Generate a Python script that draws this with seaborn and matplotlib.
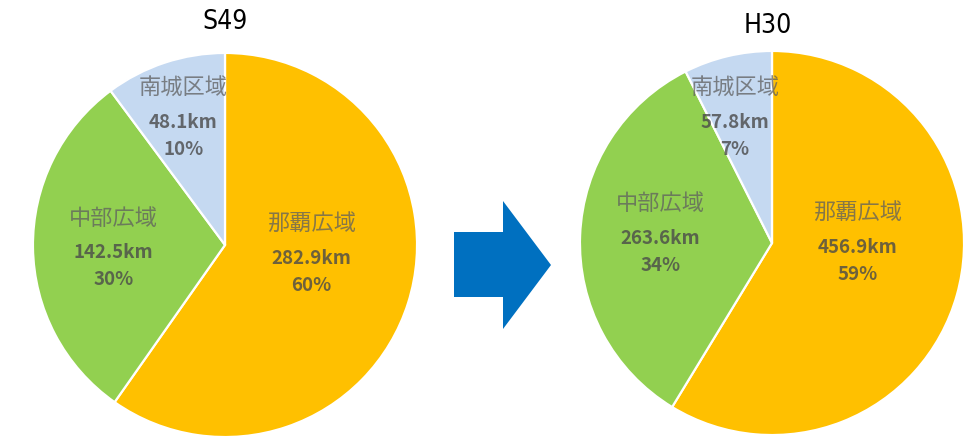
import matplotlib
matplotlib.use("Agg")
import matplotlib.pyplot as plt
from matplotlib.patches import Polygon
from matplotlib import font_manager
import seaborn as sns

# Road length by area (km), two survey years
areas = ["那覇広域", "中部広域", "南城区域"]
years = ["S49", "H30"]
km_s49 = [282.9, 142.5, 48.1]
km_h30 = [456.9, 263.6, 57.8]

sns.set_theme(style="white")
plt.rcParams["font.family"] = ["Noto Sans CJK JP", "DejaVu Sans"]

colors = ["#FFC000", "#92D050", "#C5D9F1"]

# label anchors (km line) in units of pie radius, per year / area
label_pos = {
    "S49": [(0.45, -0.068), (-0.58, -0.041), (-0.218, 0.637)],
    "H30": [(0.446, -0.021), (-0.58, 0.026), (-0.192, 0.627)],
}

W, H = 970, 440
fig = plt.figure(figsize=(W / 100, H / 100), dpi=100)


def px_axes(cx, cy, r):
    return fig.add_axes([(cx - r) / W, (H - cy - r) / H, 2 * r / W, 2 * r / H])


def draw_pie(ax, values, year):
    total = sum(values)
    ax.pie(values, colors=colors, startangle=90, counterclock=False,
           radius=1.0, wedgeprops=dict(edgecolor="white", linewidth=1.6))
    ax.set_xlim(-1.005, 1.005)
    ax.set_ylim(-1.005, 1.005)
    ax.set_aspect("equal")
    ax.axis("off")
    for name, v, (lx, ly) in zip(areas, values, label_pos[year]):
        pct = round(v / total * 100)
        ax.annotate(name, (lx, ly), xytext=(0, 25), textcoords="offset points",
                    ha="center", va="center", fontsize=16, color="#5f5f5f",
                    alpha=0.75)
        ax.annotate(f"{v:.1f}km", (lx, ly), ha="center", va="center",
                    fontsize=13.5, fontweight="bold", color="#4a4a4a", alpha=0.8)
        ax.annotate(f"{pct}%", (lx, ly), xytext=(0, -19.5),
                    textcoords="offset points", ha="center", va="center",
                    fontsize=13.5, fontweight="bold", color="#4a4a4a", alpha=0.8)


ax1 = px_axes(225, 245, 193)
draw_pie(ax1, km_s49, "S49")
ax2 = px_axes(772, 243, 193)
draw_pie(ax2, km_h30, "H30")

# narrow face for the year headings
installed = {f.name for f in font_manager.fontManager.ttflist}
if "Liberation Sans Narrow" in installed:
    title_kw = dict(family=["Liberation Sans Narrow", "DejaVu Sans"])
else:
    title_kw = dict(family=["DejaVu Sans"], stretch="condensed")

fig.text(225 / W, 1 - 22 / H, years[0], ha="center", va="center",
         fontsize=19, color="black", **title_kw)
fig.text(768 / W, 1 - 26 / H, years[1], ha="center", va="center",
         fontsize=19, color="black", **title_kw)

# block arrow between the two pies
arrow_px = [(454, 232), (503, 232), (503, 201), (551, 265),
            (503, 329), (503, 297), (454, 297)]
arrow = Polygon([(x / W, 1 - y / H) for x, y in arrow_px], closed=True,
                transform=fig.transFigure, facecolor="#0070C0",
                edgecolor="none")
fig.patches.append(arrow)

fig.savefig("out.png", dpi=100)
